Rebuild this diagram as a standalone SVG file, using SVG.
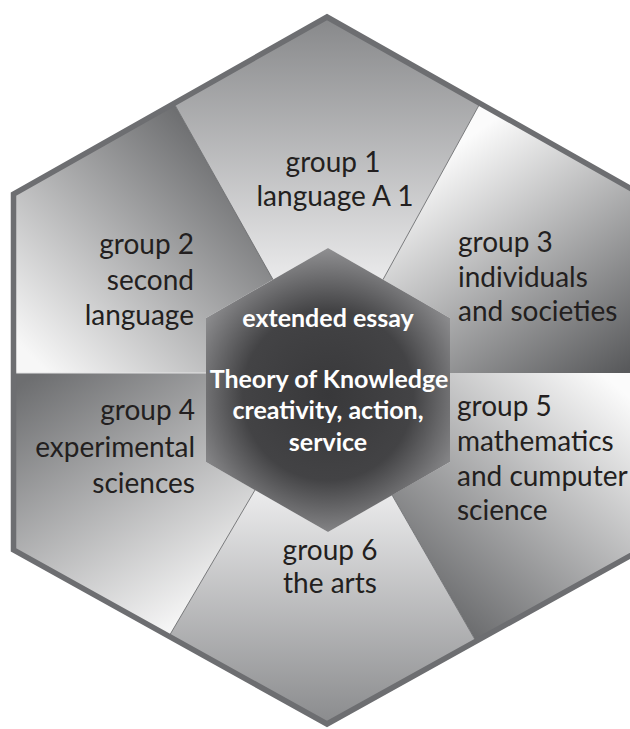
<svg xmlns="http://www.w3.org/2000/svg" width="630" height="729" viewBox="0 0 630 729">
  <defs>
    <style>
      .seg { stroke: none; }
      .divider { stroke: #6d6e71; stroke-width: 0.9; fill: none; }
      .label { font-family: Lato, "Open Sans", sans-serif; font-size: 28px; fill: #231f20; }
      .core { font-family: Lato, "Open Sans", sans-serif; font-size: 25px; font-weight: bold; fill: #ffffff; text-anchor: middle; }
      .mid { text-anchor: middle; }
      .end { text-anchor: end; }
      .start { text-anchor: start; }
    </style>
    <linearGradient id="g1" gradientUnits="userSpaceOnUse" x1="0" y1="17" x2="0" y2="282">
      <stop offset="0" stop-color="#87888a"/>
      <stop offset="1" stop-color="#ebebec"/>
    </linearGradient>
    <linearGradient id="g2" gradientUnits="userSpaceOnUse" x1="235" y1="165" x2="40" y2="365">
      <stop offset="0" stop-color="#6d6e70"/>
      <stop offset="1" stop-color="#f7f7f7"/>
    </linearGradient>
    <linearGradient id="g3" gradientUnits="userSpaceOnUse" x1="465" y1="140" x2="625" y2="372">
      <stop offset="0" stop-color="#fbfbfb"/>
      <stop offset="1" stop-color="#58595b"/>
    </linearGradient>
    <linearGradient id="g4" gradientUnits="userSpaceOnUse" x1="30" y1="378" x2="190" y2="630">
      <stop offset="0" stop-color="#6d6e70"/>
      <stop offset="1" stop-color="#fbfbfb"/>
    </linearGradient>
    <linearGradient id="g5" gradientUnits="userSpaceOnUse" x1="615" y1="385" x2="430" y2="605">
      <stop offset="0" stop-color="#fbfbfb"/>
      <stop offset="1" stop-color="#6a6b6d"/>
    </linearGradient>
    <linearGradient id="g6" gradientUnits="userSpaceOnUse" x1="0" y1="490" x2="0" y2="724">
      <stop offset="0" stop-color="#ececed"/>
      <stop offset="1" stop-color="#8a8b8d"/>
    </linearGradient>
    <radialGradient id="gc" gradientUnits="userSpaceOnUse" cx="328" cy="395" r="155">
      <stop offset="0" stop-color="#38383a"/>
      <stop offset="0.55" stop-color="#434345"/>
      <stop offset="1" stop-color="#9a9a9c"/>
    </radialGradient>
  </defs>

  <!-- six subject sectors -->
  <g id="group1">
    <polygon class="seg" fill="url(#g1)" points="174,103.4 327,17 480,103.4 383,279.6 328,248 273,279.6"/>
    <text class="label mid" x="333" y="172">group 1</text>
    <text class="label mid" x="335" y="206">language A 1</text>
  </g>
  <g id="group2">
    <polygon class="seg" fill="url(#g2)" points="174,103.4 13.5,194 13.5,373 206,373 206,318 273,279.6"/>
    <text class="label end" x="194" y="254">group 2</text>
    <text class="label end" x="194" y="290">second</text>
    <text class="label end" x="194" y="325">language</text>
  </g>
  <g id="group3">
    <polygon class="seg" fill="url(#g3)" points="480,103.4 640.5,194 640.5,373 450,373 450,318 383,279.6"/>
    <text class="label start" x="458" y="252">group 3</text>
    <text class="label start" x="458" y="287">individuals</text>
    <text class="label start" x="458" y="321">and societies</text>
  </g>
  <g id="group4">
    <polygon class="seg" fill="url(#g4)" points="13.5,373 13.5,550 169,636.3 255,490 206,462 206,373"/>
    <text class="label end" x="195" y="420">group 4</text>
    <text class="label end" x="195" y="457">experimental</text>
    <text class="label end" x="195" y="493">sciences</text>
  </g>
  <g id="group5">
    <polygon class="seg" fill="url(#g5)" points="640.5,373 640.5,550 476,641.3 392,495 450,462 450,373"/>
    <text class="label start" x="457" y="416">group 5</text>
    <text class="label start" x="457" y="451">mathematics</text>
    <text class="label start" x="457" y="486">and cumputer</text>
    <text class="label start" x="457" y="520">science</text>
  </g>
  <g id="group6">
    <polygon class="seg" fill="url(#g6)" points="169,636.3 327,724 476,641.3 392,495 328,532 255,490"/>
    <text class="label mid" x="330" y="560">group 6</text>
    <text class="label mid" x="330" y="593">the arts</text>
  </g>

  <!-- sector boundaries -->
  <g id="connectors">
    <line class="divider" x1="174" y1="103.4" x2="273" y2="279.6"/>
    <line class="divider" x1="480" y1="103.4" x2="383" y2="279.6"/>
    <line class="divider" x1="169" y1="636.3" x2="255" y2="490"/>
    <line class="divider" x1="476" y1="641.3" x2="392" y2="495"/>
    <line x1="13.5" y1="373" x2="206" y2="373" stroke="#e4e4e5" stroke-width="1"/>
  </g>

  <!-- outer frame -->
  <g id="frame">
    <polygon points="327,17 640.5,194 640.5,550 327,724 13.5,550 13.5,194" fill="none" stroke="#6d6e71" stroke-width="5.5" stroke-linejoin="miter"/>
  </g>

  <!-- core of the programme -->
  <g id="core">
    <polygon points="328,248 450,318 450,462 328,532 206,462 206,318" fill="url(#gc)"/>
    <text class="core" x="328" y="327">extended essay</text>
    <text class="core" x="329" y="388">Theory of Knowledge</text>
    <text class="core" x="328" y="419">creativity, action,</text>
    <text class="core" x="328" y="451">service</text>
  </g>
</svg>
